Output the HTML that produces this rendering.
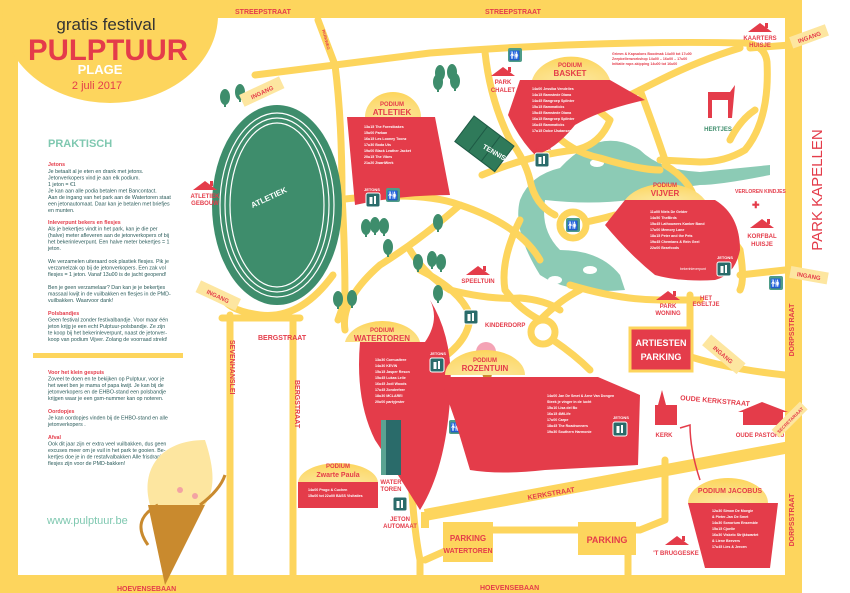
<!DOCTYPE html>
<html><head><meta charset="utf-8"><style>
html,body{margin:0;padding:0;background:#fff}
svg{display:block}
text{font-family:"Liberation Sans",sans-serif}
.b{font-weight:bold}
.t{font-size:5.3px;fill:#2a5b5a}
.h{font-size:5.3px;fill:#e43c4a;font-weight:bold}
.lab{font-size:7px;fill:#e43c4a;font-weight:bold}
.prog{font-size:3.6px;fill:#fff;font-weight:bold}
</style></head><body>
<svg width="850" height="593" viewBox="0 0 850 593" xmlns="http://www.w3.org/2000/svg">
<defs>
<radialGradient id="sun" cx="0.5" cy="1" r="1">
<stop offset="0" stop-color="#fbe7a0"/><stop offset="1" stop-color="#fdd55d"/></radialGradient>
<g id="tree"><rect x="-1" y="0" width="2" height="7" fill="#3e8d6c"/><ellipse cx="0" cy="-3" rx="5" ry="8" fill="#3e8d6c"/></g>
<g id="wc"><rect x="0" y="0" width="14" height="14" rx="2" fill="#4e9c88"/><text x="7" y="10.5" font-size="9" fill="#fff" text-anchor="middle">🚻</text></g>
<g id="jet"><rect x="0" y="0" width="14" height="14" rx="2" fill="#2a6b6a" stroke="#fff" stroke-width="1"/><rect x="3.5" y="4" width="3" height="7" fill="#fff"/><rect x="8" y="3" width="2" height="8" fill="#fff"/></g>
<g id="house"><polygon points="-12,0 0,-9 12,0" fill="#e43c4a"/><rect x="5" y="-9" width="3" height="5" fill="#e43c4a"/></g>
</defs>
<!-- frame -->
<rect x="0" y="0" width="850" height="593" fill="#fff"/>
<rect x="0" y="0" width="802" height="593" fill="#fdd55d"/>
<rect x="18" y="18" width="767" height="557" fill="#fff"/>
<ellipse cx="110" cy="15" rx="108" ry="88" fill="#fdd55d"/>
<text x="822" y="190" transform="rotate(-90 822 190)" font-size="15" fill="#e43c4a" text-anchor="middle" font-family="Liberation Sans Narrow,Liberation Sans,sans-serif">PARK KAPELLEN</text>
<text x="235" y="14" class="lab" fill="#e43c4a">STREEPSTRAAT</text>
<text x="485" y="14" class="lab">STREEPSTRAAT</text>
<text x="117" y="591" class="lab">HOEVENSEBAAN</text>
<text x="480" y="590" class="lab">HOEVENSEBAAN</text>
<text x="794" y="330" transform="rotate(-90 794 330)" class="lab" text-anchor="middle">DORPSSTRAAT</text>
<text x="794" y="520" transform="rotate(-90 794 520)" class="lab" text-anchor="middle">DORPSSTRAAT</text>

<!-- header -->
<text x="106" y="30" font-family="Liberation Serif,serif" font-size="17" fill="#333" text-anchor="middle">gratis festival</text>
<text x="108" y="60" font-size="30" font-weight="bold" fill="#e43c4a" text-anchor="middle" textLength="160" lengthAdjust="spacingAndGlyphs">PULPTUUR</text>
<text x="100" y="74" font-size="13" font-weight="bold" fill="#fff" text-anchor="middle">PLAGE</text>
<text x="97" y="89" font-size="11" fill="#e43c4a" text-anchor="middle" font-family="Liberation Sans Narrow,Liberation Sans,sans-serif">2 juli 2017</text>

<!-- left text -->
<text x="48" y="147" font-size="11" font-weight="bold" fill="#7fc8b0">PRAKTISCH</text>
<g>
<text x="48" y="166" class="h">Jetons</text>
<text x="48" y="173" class="t">Je betaalt al je eten en drank met jetons.</text>
<text x="48" y="179.5" class="t">Jetonverkopers vind je aan elk podium.</text>
<text x="48" y="186" class="t">1 jeton = €1</text>
<text x="48" y="192.5" class="t">Je kan aan alle podia betalen met Bancontact.</text>
<text x="48" y="199" class="t">Aan de ingang van het park aan de Watertoren staat</text>
<text x="48" y="205.5" class="t">een jetonautomaat. Daar kan je betalen met briefjes</text>
<text x="48" y="212" class="t">en munten.</text>
<text x="48" y="224" class="h">Inleverpunt bekers en flesjes</text>
<text x="48" y="230.5" class="t">Als je bekertjes vindt in het park, kan je die per</text>
<text x="48" y="237" class="t">(halve) meter afleveren aan de jetonverkopers of bij</text>
<text x="48" y="243.5" class="t">het bekerinleverpunt. Een halve meter bekertjes = 1</text>
<text x="48" y="250" class="t">jeton.</text>
<text x="48" y="263" class="t">We verzamelen uiteraard ook plastiek flesjes. Pik je</text>
<text x="48" y="269.5" class="t">verzamelzak op bij de jetonverkopers. Een zak vol</text>
<text x="48" y="276" class="t">flesjes = 1 jeton. Vanaf 13u00 is de jacht geopend!</text>
<text x="48" y="289" class="t">Ben je geen verzamelaar? Dan kan je je bekertjes</text>
<text x="48" y="295.5" class="t">massaal kwijt in de vuilbakken en flesjes in de PMD-</text>
<text x="48" y="302" class="t">vuilbakken. Waarvoor dank!</text>
<text x="48" y="315" class="h">Polsbandjes</text>
<text x="48" y="321.5" class="t">Geen festival zonder festivalbandje. Voor maar één</text>
<text x="48" y="328" class="t">jeton krijg je een echt Pulptuur-polsbandje. Ze zijn</text>
<text x="48" y="334.5" class="t">te koop bij het bekerinleverpunt, naast de jetonver-</text>
<text x="48" y="341" class="t">koop van podium Vijver. Zolang de voorraad strekt!</text>
<rect x="33" y="353" width="150" height="5" fill="#fdd55d"/>
<text x="48" y="374" class="h">Voor het klein gespuis</text>
<text x="48" y="380.5" class="t">Zoveel te doen en te bekijken op Pulptuur, voor je</text>
<text x="48" y="387" class="t">het weet ben je mama of papa kwijt. Je kan bij de</text>
<text x="48" y="393.5" class="t">jetonverkopers en de EHBO-stand een polsbandje</text>
<text x="48" y="400" class="t">krijgen waar je een gsm-nummer kan op noteren.</text>
<text x="48" y="413" class="h">Oordopjes</text>
<text x="48" y="419.5" class="t">Je kan oordopjes vinden bij de EHBO-stand en alle</text>
<text x="48" y="426" class="t">jetonverkopers .</text>
<text x="48" y="439" class="h">Afval</text>
<text x="48" y="445.5" class="t">Ook dit jaar zijn er extra veel vuilbakken, dus geen</text>
<text x="48" y="452" class="t">excuses meer om je vuil in het park te gooien. Be-</text>
<text x="48" y="458.5" class="t">kertjes doe je in de restafvalbakken Alle frisdrank-</text>
<text x="48" y="465" class="t">flesjes zijn voor de PMD-bakken!</text>
</g>
<text x="47" y="524" font-size="11" fill="#7fc8b0" font-family="Liberation Sans Narrow,Liberation Sans,sans-serif">www.pulptuur.be</text>
<!-- ice cream left -->
<polygon points="148,505 205,505 165,585" fill="#c98a2e"/>
<path d="M150,505 C140,470 160,440 205,440 C215,470 215,490 205,505 Z" fill="#fde6a0"/>
<path d="M158,505 Q130,520 148,545 M200,505 Q220,490 225,475" stroke="#c98a2e" stroke-width="3" fill="none"/>
<circle cx="180" cy="490" r="3" fill="#f3a3a3"/><circle cx="195" cy="496" r="3" fill="#f3a3a3"/>

<!-- water/pond -->
<path d="M560,168 Q600,125 640,150 Q660,170 700,172 L770,165 L770,175 Q720,185 700,185 Q660,190 630,200 Q590,205 545,200 Q540,230 560,250 Q600,250 620,275 L625,290 Q570,295 540,275 Q512,230 520,200 Q530,175 560,168 Z" fill="#8ccbb5"/>
<ellipse cx="597" cy="163" rx="7" ry="4" fill="#fff"/>
<ellipse cx="590" cy="270" rx="7" ry="4" fill="#fff"/><ellipse cx="555" cy="280" rx="7" ry="4" fill="#fff"/>

<!-- roads -->
<g stroke="#fdd55d" stroke-width="7" fill="none" stroke-linecap="round" stroke-linejoin="round">
<path d="M255,75 L335,65 L430,53 Q600,40 745,43 Q765,45 767,62 Q770,120 745,150 Q725,162 700,162 L660,160"/>
<path d="M750,48 L790,45"/>
<path d="M318,20 L335,65 Q342,120 342,195 Q345,250 345,300 L338,320"/>
<path d="M333,275 Q300,320 260,315 Q225,310 222,295"/>
<path d="M336,200 Q420,190 460,205 Q520,225 540,260"/>
<path d="M482,175 Q530,155 575,150 Q600,145 610,120 Q580,95 555,80"/>
<path d="M485,52 Q490,100 510,140 Q525,160 530,180 Q535,205 555,215"/>
<path d="M535,110 Q560,150 600,158 Q640,170 660,170"/>
<path d="M665,165 Q690,180 695,200 Q720,220 740,250 Q745,280 740,290"/>
<path d="M730,140 Q740,120 755,110"/>
<path d="M600,110 Q630,95 660,80 Q700,60 740,48"/>
<path d="M640,90 Q655,130 665,160"/>
<circle cx="573" cy="225" r="13"/>
<path d="M586,222 Q605,218 615,215"/>
<path d="M740,275 L785,270"/>
<path d="M460,205 Q420,240 380,265 Q340,300 345,330"/>
<path d="M410,250 Q425,275 450,290 Q490,300 520,298 Q545,300 560,310"/>
<path d="M520,220 Q500,260 505,290 Q520,310 540,320"/>
<path d="M570,285 Q620,300 660,300 L700,300"/>
<path d="M540,320 Q560,300 580,290"/>
<path d="M690,295 L690,330"/>
<path d="M640,335 Q690,365 785,375"/>
<circle cx="543" cy="332" r="12"/>
<path d="M553,340 Q575,355 590,370"/>
<path d="M420,270 Q460,290 470,315 Q470,340 440,360 Q410,390 410,450 Q412,520 420,560 L420,575"/>
<path d="M425,560 Q470,540 490,530 L640,530 L665,520 L665,460"/>
<path d="M628,530 L628,575"/>
<path d="M230,315 L230,575"/>
<path d="M293,320 L293,575"/>
<path d="M222,318 L300,318"/>
</g>
<path d="M425,515 L790,447" stroke="#fdd55d" stroke-width="12"/>
<path d="M425,528 L425,512" stroke="#fdd55d" stroke-width="8"/>
<text x="528" y="500" class="lab" transform="rotate(-10 528 500)">KERKSTRAAT</text>
<text x="258" y="340" class="lab">BERGSTRAAT</text>
<text x="295" y="380" transform="rotate(90 295 380)" class="lab" font-size="6">BERGSTRAAT</text>
<text x="230" y="340" transform="rotate(90 230 340)" class="lab" font-size="5">SEVENHANSLEI</text>
<text x="680" y="400" class="lab" font-size="7" transform="rotate(5 680 400)">OUDE KERKSTRAAT</text>

<!-- track -->
<ellipse cx="277" cy="205" rx="65" ry="100" fill="#3e8d6c"/>
<ellipse cx="277" cy="205" rx="57" ry="92" fill="none" stroke="#fff" stroke-width="1.2"/>
<ellipse cx="277" cy="205" rx="52" ry="87" fill="none" stroke="#fff" stroke-width="1.2"/>
<ellipse cx="277" cy="205" rx="47" ry="82" fill="none" stroke="#fff" stroke-width="1.2"/>
<ellipse cx="277" cy="205" rx="43" ry="78" fill="#3e8d6c"/>
<text x="270" y="200" font-size="8" font-weight="bold" fill="#fff" text-anchor="middle" transform="rotate(-25 270 200)">ATLETIEK</text>
<!-- tennis -->
<g transform="rotate(37 485 143)"><rect x="460" y="128" width="50" height="32" fill="#2f7a5a" stroke="#1e5a45"/><line x1="477" y1="128" x2="477" y2="160" stroke="#1e5a45"/><line x1="493" y1="128" x2="493" y2="160" stroke="#1e5a45"/></g>
<text x="482" y="148" font-size="7" font-weight="bold" fill="#fff" transform="rotate(30 482 148)">TENNIS</text>

<!-- trees -->
<use href="#tree" x="225" y="100"/><use href="#tree" x="240" y="95"/>
<use href="#tree" x="440" y="76"/><use href="#tree" x="452" y="75"/>
<use href="#tree" x="438" y="85"/><use href="#tree" x="455" y="84"/>
<use href="#tree" x="366" y="230"/><use href="#tree" x="375" y="228"/><use href="#tree" x="384" y="229"/>
<use href="#tree" x="388" y="250"/><use href="#tree" x="438" y="225"/><use href="#tree" x="418" y="265"/><use href="#tree" x="432" y="262"/>
<use href="#tree" x="338" y="302"/><use href="#tree" x="352" y="301"/>
<use href="#tree" x="441" y="265"/><use href="#tree" x="438" y="296"/>

<!-- Podium atletiek -->
<path d="M365,117 A28,25 0 0 1 421,117 Z" fill="url(#sun)"/>
<text x="392" y="106" font-size="6" class="b" fill="#e43c4a" text-anchor="middle">PODIUM</text>
<text x="392" y="115" font-size="8" class="b" fill="#e43c4a" text-anchor="middle">ATLETIEK</text>
<path d="M347,117 L435,117 L450,195 Q400,195 355,205 Z" fill="#e43c4a"/>
<g class="prog"><text x="364" y="128" class="prog">13u15 The Forestbakes</text><text x="364" y="134" class="prog">15u00 Parkan</text><text x="364" y="140" class="prog">16u15 Les Looney Toonz</text><text x="364" y="146" class="prog">17u30 Boda Uts</text><text x="364" y="152" class="prog">19u00 Black Leather Jacket</text><text x="364" y="158" class="prog">20u15 The Vibes</text><text x="364" y="164" class="prog">21u20 ZwartWerk</text></g>
<use href="#jet" x="366" y="193"/><use href="#wc" x="386" y="188"/>
<text x="364" y="191" font-size="4" class="b" fill="#fff">JETONS</text>

<!-- Podium basket -->
<path d="M532,80 A40,30 0 0 1 610,80 Z" fill="url(#sun)"/>
<text x="570" y="67" font-size="6" class="b" fill="#e43c4a" text-anchor="middle">PODIUM</text>
<text x="570" y="76" font-size="8" class="b" fill="#e43c4a" text-anchor="middle">BASKET</text>
<path d="M520,80 L610,80 L645,100 Q600,110 575,125 Q555,150 535,155 Q520,140 508,115 Z" fill="#e43c4a"/>
<g><text x="532" y="90" class="prog">14u00 Jessika Vendelies</text><text x="532" y="96" class="prog">14u15 Bamstede Diana</text><text x="532" y="102" class="prog">14u45 Bangroep Splinter</text><text x="532" y="108" class="prog">15u15 Bammaticks</text><text x="532" y="114" class="prog">15u45 Bamstede Diana</text><text x="532" y="120" class="prog">16u15 Bangroep Splinter</text><text x="532" y="126" class="prog">16u45 Bammaticks</text><text x="532" y="132" class="prog">17u15 Dolce IJsdanser</text></g>
<text x="612" y="55" font-size="3.6" class="b" fill="#e43c4a">Grimm &amp; Kapsalons Boodmak 14u00 tot 17u00</text>
<text x="612" y="60" font-size="3.6" class="b" fill="#e43c4a">Zeepbellenworkshop 14u00 – 16u00 – 17u00</text>
<text x="612" y="65" font-size="3.6" class="b" fill="#e43c4a">Initiatie rope-skipping 14u00 tot 16u00</text>
<use href="#jet" x="535" y="153"/><text x="535" y="150" font-size="4" class="b" fill="#e43c4a">JETONS</text>
<use href="#wc" x="508" y="48"/>
<use href="#house" x="503" y="76"/><text x="503" y="84" font-size="6" class="b" fill="#e43c4a" text-anchor="middle">PARK</text><text x="503" y="92" font-size="6" class="b" fill="#e43c4a" text-anchor="middle">CHALET</text>

<!-- hertjes -->
<path d="M708,92 L730,92 L735,85 L732,118 L728,118 L728,100 L712,100 L712,118 L708,118 Z" fill="#e43c4a"/>
<text x="718" y="131" font-size="6" class="b" fill="#3e8d6c" text-anchor="middle">HERTJES</text>
<use href="#house" x="760" y="32"/><text x="760" y="40" font-size="6" class="b" fill="#e43c4a" text-anchor="middle">KAARTERS</text><text x="760" y="47" font-size="6" class="b" fill="#e43c4a" text-anchor="middle">HUISJE</text>

<!-- Vijver -->
<path d="M625,200 A45,30 0 0 1 705,200 Z" fill="url(#sun)"/>
<text x="665" y="187" font-size="6" class="b" fill="#e43c4a" text-anchor="middle">PODIUM</text>
<text x="665" y="196" font-size="8" class="b" fill="#e43c4a" text-anchor="middle">VIJVER</text>
<path d="M625,200 L715,200 Q740,215 740,250 Q735,275 715,280 Q680,282 655,275 Q630,255 605,225 Z" fill="#e43c4a"/>
<g><text x="650" y="213" class="prog">11u00 Niels De Gelder</text><text x="650" y="219" class="prog">14u50 TheBirds</text><text x="650" y="225" class="prog">15u45 Lathouwers Kanker Band</text><text x="650" y="231" class="prog">17u00 Memory Lane</text><text x="650" y="237" class="prog">18u15 Peter and the Pets</text><text x="650" y="243" class="prog">19u45 Chemians &amp; Rein Geel</text><text x="650" y="249" class="prog">22u00 Bearfoods</text></g>
<use href="#jet" x="717" y="262"/><text x="717" y="259" font-size="4" class="b" fill="#fff">JETONS</text>
<text x="680" y="270" font-size="3.5" fill="#fff">bekerinleverpunt</text>
<use href="#wc" x="566" y="218"/>
<text x="735" y="193" font-size="5" class="b" fill="#e43c4a">VERLOREN KINDJES</text>
<text x="752" y="208" font-size="9" class="b" fill="#e43c4a">✚</text>
<use href="#house" x="762" y="228"/><text x="762" y="238" font-size="6" class="b" fill="#e43c4a" text-anchor="middle">KORFBAL</text><text x="762" y="246" font-size="6" class="b" fill="#e43c4a" text-anchor="middle">HUISJE</text>
<use href="#wc" x="769" y="276"/>
<use href="#house" x="668" y="300"/><text x="668" y="308" font-size="6" class="b" fill="#e43c4a" text-anchor="middle">PARK</text><text x="668" y="315" font-size="6" class="b" fill="#e43c4a" text-anchor="middle">WONING</text>
<text x="706" y="300" font-size="6" class="b" fill="#e43c4a" text-anchor="middle">HET</text><text x="706" y="306" font-size="6" class="b" fill="#e43c4a" text-anchor="middle">EGELTJE</text>

<use href="#house" x="478" y="275"/><text x="478" y="283" font-size="6" class="b" fill="#e43c4a" text-anchor="middle">SPEELTUIN</text>
<use href="#jet" x="464" y="310"/><text x="485" y="327" font-size="6" class="b" fill="#e43c4a">KINDERDORP</text>
<use href="#wc" x="449" y="420"/>
<use href="#house" x="491" y="416"/><text x="491" y="424" font-size="6" class="b" fill="#e43c4a" text-anchor="middle">GEMEENTE</text><text x="491" y="432" font-size="6" class="b" fill="#e43c4a" text-anchor="middle">MAGAZIJN</text>
<!-- pink icecream -->
<polygon points="478,358 495,358 488,395" fill="#c98a2e"/><circle cx="486" cy="352" r="10" fill="#f4a3b5"/>

<!-- Watertoren -->
<path d="M345,342 A38,25 0 0 1 420,342 Z" fill="url(#sun)"/>
<text x="382" y="332" font-size="6" class="b" fill="#e43c4a" text-anchor="middle">PODIUM</text>
<text x="382" y="341" font-size="8" class="b" fill="#e43c4a" text-anchor="middle">WATERTOREN</text>
<path d="M360,342 L425,342 Q440,320 430,300 Q455,340 450,400 Q445,470 420,510 Q395,470 375,440 Q355,400 360,342 Z" fill="#e43c4a"/>
<g><text x="375" y="361" class="prog">13u30 Cornualtree</text><text x="375" y="367" class="prog">14u30 KEVIN</text><text x="375" y="373" class="prog">15u15 Jasper Reson</text><text x="375" y="379" class="prog">15u45 Lukas Lelie</text><text x="375" y="385" class="prog">16u45 Jodi Woods</text><text x="375" y="391" class="prog">17u45 Zonderfeer</text><text x="375" y="397" class="prog">18u30 MCLAREI</text><text x="375" y="403" class="prog">20u00 partyjester</text></g>
<use href="#jet" x="430" y="358"/><text x="430" y="355" font-size="4" class="b" fill="#fff">JETONS</text>
<rect x="381" y="420" width="20" height="55" fill="#2a6b6a"/><rect x="381" y="420" width="5" height="55" fill="#5aa392"/>
<text x="391" y="484" font-size="6" class="b" fill="#e43c4a" text-anchor="middle">WATER</text><text x="391" y="491" font-size="6" class="b" fill="#e43c4a" text-anchor="middle">TOREN</text>
<use href="#jet" x="393" y="497"/>
<text x="400" y="521" font-size="6" class="b" fill="#e43c4a" text-anchor="middle">JETON</text><text x="400" y="528" font-size="6" class="b" fill="#e43c4a" text-anchor="middle">AUTOMAAT</text>

<!-- Zwarte Paula -->
<path d="M298,483 A40,20 0 0 1 378,483 Z" fill="url(#sun)"/>
<text x="338" y="468" font-size="6" class="b" fill="#e43c4a" text-anchor="middle">PODIUM</text>
<text x="338" y="477" font-size="7" class="b" fill="#e43c4a" text-anchor="middle">Zwarte Paula</text>
<rect x="298" y="482" width="80" height="26" fill="#e43c4a"/>
<text x="308" y="491" class="prog">14u00 Progo &amp; Cuchen</text><text x="308" y="497" class="prog">15u00 tot 22u00 BASS Visitaties</text>

<!-- Rozentuin -->
<path d="M445,375 A40,25 0 0 1 525,375 Z" fill="url(#sun)"/>
<text x="485" y="362" font-size="6" class="b" fill="#e43c4a" text-anchor="middle">PODIUM</text>
<text x="485" y="371" font-size="8" class="b" fill="#e43c4a" text-anchor="middle">ROZENTUIN</text>
<path d="M440,377 L598,377 L640,395 L638,465 L545,470 Q500,475 470,470 L455,420 Z" fill="#e43c4a"/>
<g><text x="547" y="397" class="prog">14u00 Jan De Smet &amp; Arne Van Dongen</text><text x="547" y="403" class="prog">Steek je vinger in de lucht</text><text x="547" y="409" class="prog">15u10 Lisa del Bo</text><text x="547" y="415" class="prog">16u15 4MiLife</text><text x="547" y="421" class="prog">17u00 Carpe</text><text x="547" y="427" class="prog">18u45 The Roadrunners</text><text x="547" y="433" class="prog">19u30 Southern Harmonie</text></g>
<use href="#jet" x="613" y="422"/><text x="613" y="419" font-size="4" class="b" fill="#fff">JETONS</text>
<!-- artiesten parking -->
<rect x="630" y="328" width="62" height="43" fill="#e43c4a" stroke="#fdd55d" stroke-width="3"/>
<text x="661" y="346" font-size="9" class="b" fill="#fff" text-anchor="middle">ARTIESTEN</text>
<text x="661" y="360" font-size="9" class="b" fill="#fff" text-anchor="middle">PARKING</text>
<g transform="rotate(40 720 355)"><rect x="700" y="345" width="45" height="14" fill="#fde6a0"/><text x="722" y="355" font-size="6" class="b" fill="#e43c4a" text-anchor="middle">INGANG</text></g>
<!-- kerk -->
<rect x="655" y="405" width="22" height="20" fill="#e43c4a"/><polygon points="658,405 662,390 666,405" fill="#e43c4a"/>
<text x="664" y="437" font-size="6" class="b" fill="#e43c4a" text-anchor="middle">KERK</text>
<path d="M700,480 Q690,450 690,425 L680,428" stroke="#e43c4a" stroke-width="1.5" fill="none"/>
<rect x="743" y="410" width="40" height="15" fill="#e43c4a"/><polygon points="738,412 762,402 788,412" fill="#e43c4a"/>
<text x="760" y="437" font-size="6" class="b" fill="#e43c4a" text-anchor="middle">OUDE PASTORIJ</text>
<g transform="rotate(-45 790 420)"><rect x="770" y="414" width="40" height="11" fill="#fde6a0"/><text x="790" y="422" font-size="4.5" class="b" fill="#e43c4a" text-anchor="middle">SECRETARIAAT</text></g>

<!-- Jacobus -->
<path d="M688,503 A40,25 0 0 1 768,503 Z" fill="url(#sun)"/>
<text x="730" y="493" font-size="7" class="b" fill="#e43c4a" text-anchor="middle">PODIUM JACOBUS</text>
<path d="M688,503 L778,503 L770,568 L705,568 Z" fill="#e43c4a"/>
<g><text x="712" y="512" class="prog">12u30 Simon De Moegie</text><text x="712" y="518" class="prog">&amp; Pieter-Jan De Smet</text><text x="712" y="524" class="prog">14u30 Sonorium Ensemble</text><text x="712" y="530" class="prog">15u15 Cjoelie</text><text x="712" y="536" class="prog">16u30 Viskelo Strijkkwartet</text><text x="712" y="542" class="prog">&amp; Liene Beevers</text><text x="712" y="548" class="prog">17u45 Lies &amp; Jeroen</text></g>
<use href="#house" x="677" y="545"/><text x="676" y="555" font-size="6" class="b" fill="#e43c4a" text-anchor="middle">'T BRUGGESKE</text>

<!-- parkings -->
<rect x="443" y="522" width="50" height="40" fill="#fdd55d"/>
<text x="468" y="541" font-size="8" class="b" fill="#e43c4a" text-anchor="middle">PARKING</text>
<text x="468" y="553" font-size="7" class="b" fill="#e43c4a" text-anchor="middle">WATERTOREN</text>
<rect x="578" y="522" width="58" height="33" fill="#fdd55d"/>
<text x="607" y="543" font-size="9" class="b" fill="#e43c4a" text-anchor="middle">PARKING</text>

<!-- ingangs -->
<g transform="rotate(-25 262 92)"><rect x="240" y="85" width="44" height="13" fill="#fde6a0"/><text x="262" y="94.5" font-size="6" class="b" fill="#e43c4a" text-anchor="middle">INGANG</text></g>
<g transform="rotate(25 218 296)"><rect x="196" y="289" width="44" height="13" fill="#fde6a0"/><text x="218" y="298.5" font-size="6" class="b" fill="#e43c4a" text-anchor="middle">INGANG</text></g>
<g transform="rotate(-20 810 36)"><rect x="790" y="30" width="38" height="12" fill="#fde6a0"/><text x="809" y="39" font-size="6" class="b" fill="#e43c4a" text-anchor="middle">INGANG</text></g>
<g transform="rotate(10 808 275)"><rect x="790" y="269" width="38" height="12" fill="#fde6a0"/><text x="809" y="278" font-size="6" class="b" fill="#e43c4a" text-anchor="middle">INGANG</text></g>
<use href="#house" x="205" y="190"/><text x="205" y="198" font-size="6" class="b" fill="#e43c4a" text-anchor="middle">ATLETIEK</text><text x="205" y="205" font-size="6" class="b" fill="#e43c4a" text-anchor="middle">GEBOUW</text>
<text x="322" y="30" transform="rotate(75 322 30)" font-size="4" class="b" fill="#e43c4a">PARKWEG</text>
</svg>
</body></html>
